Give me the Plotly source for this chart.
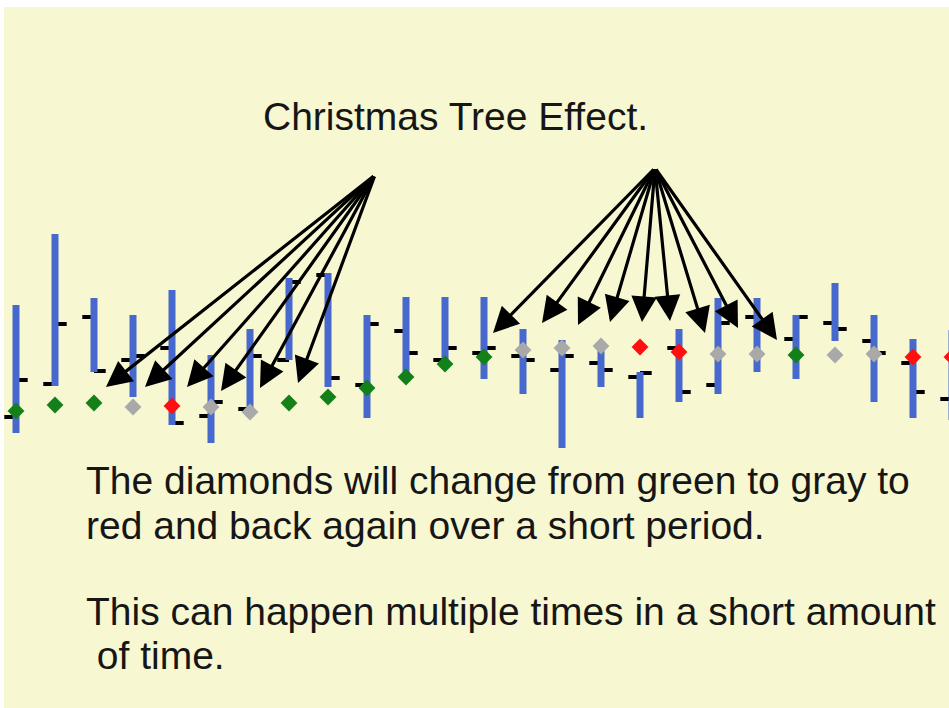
import plotly.graph_objects as go

# bar readings (price units), one entry per bar, left to right
opens = [29.1, 32.4, 39.1, 34.8, 36.0, 29.2, 29.9, 34.8, 43.3, 32.3,
         37.7, 34.8, 35.5, 35.2, 33.8, 34.5, 33.1, 36.0, 32.3, 39.1,
         36.9, 38.5, 36.7, 34.5, 30.9]
highs = [40.3, 47.4, 41.0, 39.3, 41.8, 35.3, 37.9, 43.0, 43.5, 39.3,
         41.1, 41.1, 41.1, 37.9, 36.8, 36.5, 33.6, 37.9, 41.0, 41.0,
         39.3, 42.5, 39.3, 36.9, 37.8]
lows = [27.5, 32.2, 33.6, 31.1, 28.3, 26.5, 29.1, 34.8, 32.1, 29.0,
        33.1, 34.3, 32.9, 31.4, 26.0, 32.1, 29.0, 30.6, 31.4, 33.6,
        32.9, 36.7, 30.6, 29.0, 28.8]
closes = [32.8, 38.4, 33.7, 35.2, 28.5, 30.6, 35.2, 42.6, 33.0, 38.4,
          35.5, 36.0, 36.0, 34.8, 35.2, 33.8, 33.5, 31.6, 38.5, 38.1,
          39.1, 37.9, 35.5, 31.6, 34.8]
signal = [29.7, 30.3, 30.5, 30.1, 30.2, 30.1, 29.6, 30.5, 31.1, 32.0,
          33.1, 34.4, 35.1, 35.8, 36.0, 36.2, 36.1, 35.6, 35.4, 35.4,
          35.3, 35.3, 35.4, 35.1, 35.1]
signal_state = ["green", "green", "green", "gray", "red", "gray", "gray", "green", "green", "green",
                "green", "green", "green", "gray", "gray", "gray", "red", "red", "gray", "gray",
                "green", "gray", "gray", "red", "red"]

title_text = "Christmas Tree Effect."
body_lines = [
    "The diamonds will change from green to gray to",
    "red and back again over a short period.",
    "This can happen multiple times in a short amount",
    "&nbsp;of time.",
]

W, H = 949, 708
ML, MT = 4, 7
XMIN = -(16 - ML) / 39.0
XMAX = XMIN + (W - ML) / 39.0
YMAX = (H - MT) / 10.0

state_colors = {"green": "#13801a", "gray": "#a9a9a9", "red": "#ff1010"}
idx = list(range(len(opens)))


def px_x(px):
    return XMIN + (px - ML) / (W - ML) * (XMAX - XMIN)


def px_y(py):
    return (H - py) / 10.0


fig = go.Figure()

# open/close ticks
fig.add_trace(go.Ohlc(
    x=idx, open=opens, high=highs, low=lows, close=closes,
    increasing=dict(line=dict(color="black", width=4)),
    decreasing=dict(line=dict(color="black", width=4)),
    tickwidth=0.3, hoverinfo="skip", showlegend=False,
))
# blue range bars on top of the tick stems
fig.add_trace(go.Ohlc(
    x=idx, open=opens, high=highs, low=lows, close=closes,
    increasing=dict(line=dict(color="#4768cc", width=7)),
    decreasing=dict(line=dict(color="#4768cc", width=7)),
    tickwidth=0, hoverinfo="skip", showlegend=False,
))
fig.add_trace(go.Scatter(
    x=idx, y=signal, mode="markers",
    marker=dict(symbol="diamond", size=13,
                color=[state_colors[s] for s in signal_state], line=dict(width=0)),
    hoverinfo="skip", showlegend=False,
))

# arrows: two fans, each from a common origin
left_origin = (375, 175)
left_tips = [(106, 387), (145, 387), (187, 387), (221, 391), (260, 388), (298, 383)]
right_origin = (655, 168)
right_tips = [(493, 333), (542, 323), (578, 325), (610, 322), (642, 322),
              (670, 321), (705, 333), (738, 328), (777, 340)]

annotations = []
for origin, tips in [(left_origin, left_tips), (right_origin, right_tips)]:
    for tx, ty in tips:
        annotations.append(dict(
            x=px_x(tx), y=px_y(ty), ax=px_x(origin[0]), ay=px_y(origin[1]),
            xref="x", yref="y", axref="x", ayref="y", text="",
            showarrow=True, arrowhead=2, arrowsize=1.6, arrowwidth=3.2,
            arrowcolor="black", standoff=0,
        ))

font = dict(family="Liberation Sans, Arial, sans-serif", size=39, color="#161616")
annotations.append(dict(
    x=px_x(455), y=px_y(116), xref="x", yref="y", text=title_text,
    showarrow=False, xanchor="center", yanchor="middle", font=font,
))
for text, py in zip(body_lines, [480, 525, 611, 655]):
    annotations.append(dict(
        x=px_x(84), y=px_y(py), xref="x", yref="y", text=text,
        showarrow=False, xanchor="left", yanchor="middle", font=font,
    ))

fig.update_layout(
    width=W, height=H,
    margin=dict(l=ML, r=0, t=MT, b=0),
    paper_bgcolor="white",
    plot_bgcolor="#f7f7d2",
    xaxis=dict(range=[XMIN, XMAX], visible=False, rangeslider=dict(visible=False), fixedrange=True),
    yaxis=dict(range=[0, YMAX], visible=False, fixedrange=True),
    annotations=annotations,
    showlegend=False,
)

fig.write_html("out.html", config={"displayModeBar": False},
               post_script="document.body.style.margin = '0';")
